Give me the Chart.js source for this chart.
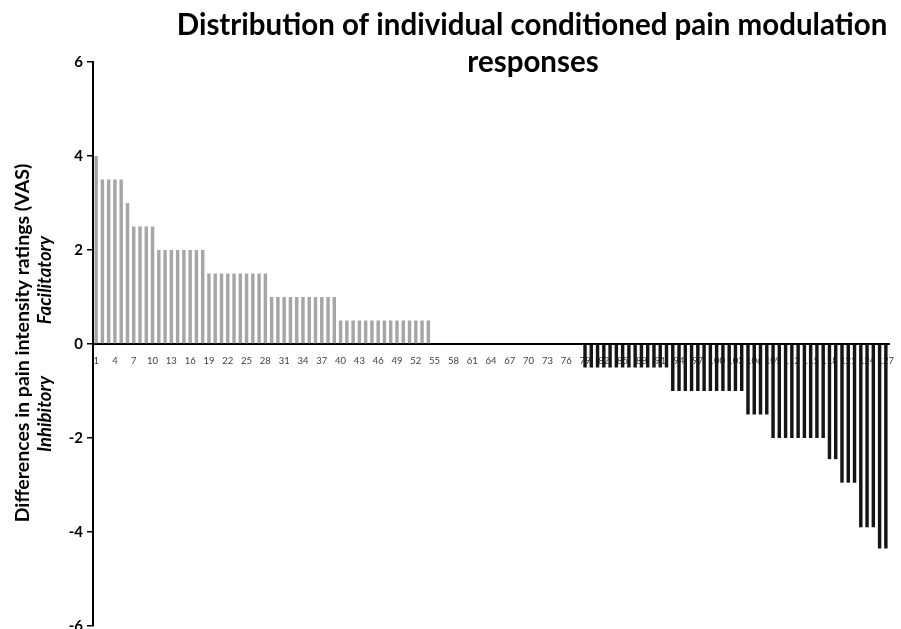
<!DOCTYPE html>
<html>
<head>
<meta charset="utf-8">
<script src="https://cdn.jsdelivr.net/npm/chart.js@4.4.0/dist/chart.umd.min.js"></script>
<style>
  html, body { margin: 0; padding: 0; background: #fff; overflow: hidden; }
  #wrap { position: relative; width: 901px; height: 640px; }
</style>
</head>
<body>
<div id="wrap"><canvas id="cpm-chart"></canvas></div>
<script>
// participants, sorted from most facilitatory to most inhibitory
let participants = [
  1, 2, 3, 4, 5, 6, 7, 8, 9, 10, 11, 12, 13, 14, 15, 16, 17, 18, 19, 20,
  21, 22, 23, 24, 25, 26, 27, 28, 29, 30, 31, 32, 33, 34, 35, 36, 37, 38, 39, 40,
  41, 42, 43, 44, 45, 46, 47, 48, 49, 50, 51, 52, 53, 54, 55, 56, 57, 58, 59, 60,
  61, 62, 63, 64, 65, 66, 67, 68, 69, 70, 71, 72, 73, 74, 75, 76, 77, 78, 79, 80,
  81, 82, 83, 84, 85, 86, 87, 88, 89, 90, 91, 92, 93, 94, 95, 96, 97, 98, 99, 100,
  101, 102, 103, 104, 105, 106, 107, 108, 109, 110, 111, 112, 113, 114, 115, 116, 117, 118, 119, 120,
  121, 122, 123, 124, 125, 126, 127,
];

// difference in VAS rating (test - baseline)
let cpmValues = [
  4, 3.5, 3.5, 3.5, 3.5, 3, 2.5, 2.5, 2.5, 2.5,
  2, 2, 2, 2, 2, 2, 2, 2,
  1.5, 1.5, 1.5, 1.5, 1.5, 1.5, 1.5, 1.5, 1.5, 1.5,
  1, 1, 1, 1, 1, 1, 1, 1, 1, 1, 1,
  0.5, 0.5, 0.5, 0.5, 0.5, 0.5, 0.5, 0.5, 0.5, 0.5, 0.5, 0.5, 0.5, 0.5, 0.5,
  0, 0, 0, 0, 0, 0, 0, 0, 0, 0, 0, 0, 0, 0, 0, 0, 0, 0, 0, 0, 0, 0, 0, 0,
  -0.5, -0.5, -0.5, -0.5, -0.5, -0.5, -0.5, -0.5, -0.5, -0.5, -0.5, -0.5, -0.5, -0.5,
  -1, -1, -1, -1, -1, -1, -1, -1, -1, -1, -1, -1,
  -1.5, -1.5, -1.5, -1.5,
  -2, -2, -2, -2, -2, -2, -2, -2, -2,
  -2.45, -2.45,
  -2.95, -2.95, -2.95,
  -3.9, -3.9, -3.9,
  -4.35, -4.35,
];

let yTicks = [6, 4, 2, 0, -2, -4, -6];
let titleLines = ["Distribution of individual conditioned pain modulation", "responses"];
let yTitle = "Differences in pain intensity ratings (VAS)";
let upLabel = "Facilitatory";
let downLabel = "Inhibitory";

let barColors = cpmValues.map(function (v) {
  return v >= 0 ? "#a6a6a6" : "#151515";
});

// title + the two-part y axis title
let textPlugin = {
  id: "sideText",
  afterDraw(chart) {
    let c = chart.ctx;
    c.save();
    c.fillStyle = "#000";
    c.textAlign = "center";
    c.textBaseline = "alphabetic";
    c.font = "bold 29.5px Lato";
    c.fillText(titleLines[0], 532, 35);
    c.fillText(titleLines[1], 533, 72);

    c.textBaseline = "middle";
    c.save();
    c.translate(23, 343);
    c.rotate(-Math.PI / 2);
    c.font = "bold 19.5px Lato";
    c.fillText(yTitle, 0, 0);
    c.restore();

    c.font = "italic bold 18.5px Lato";
    c.save();
    c.translate(45, 280);
    c.rotate(-Math.PI / 2);
    c.fillText(upLabel, 0, 0);
    c.restore();
    c.save();
    c.translate(45, 414);
    c.rotate(-Math.PI / 2);
    c.fillText(downLabel, 0, 0);
    c.restore();
    c.restore();
  },
};

let chart = new Chart(document.getElementById("cpm-chart"), {
  type: "bar",
  data: {
    labels: participants,
    datasets: [
      {
        label: "CPM",
        data: cpmValues,
        backgroundColor: barColors,
        borderWidth: 0,
        barPercentage: 0.55,
        categoryPercentage: 1,
      },
    ],
  },
  options: {
    responsive: true,
    maintainAspectRatio: false,
    animation: false,
    layout: { padding: { left: 0, top: 62, right: 12, bottom: 14 } },
    plugins: {
      legend: { display: false },
      tooltip: { enabled: false },
    },
    scales: {
      x: {
        position: { y: 0 },
        grid: { display: false },
        border: { display: true, color: "#000", width: 2 },
        ticks: {
          autoSkip: false,
          maxRotation: 0,
          minRotation: 0,
          padding: 3,
          color: "#404040",
          font: { family: "Lato", size: 9.5 },
          callback: function (v, i) {
            return i % 3 === 0 ? participants[i] : "";
          },
        },
      },
      y: {
        min: -6,
        max: 6,
        afterBuildTicks: function (scale) {
          scale.ticks = yTicks.map(function (v) {
            return { value: v };
          });
        },
        afterFit: function (scale) {
          scale.width = 93;
        },
        grid: {
          drawOnChartArea: false,
          drawTicks: true,
          tickLength: 6,
          color: "#000",
          lineWidth: 1.5,
        },
        border: { display: true, color: "#000", width: 2 },
        ticks: {
          padding: 4,
          color: "#000",
          font: { family: "Lato", size: 15, weight: "bold" },
        },
      },
    },
  },
  plugins: [textPlugin],
});
</script>
</body>
</html>
